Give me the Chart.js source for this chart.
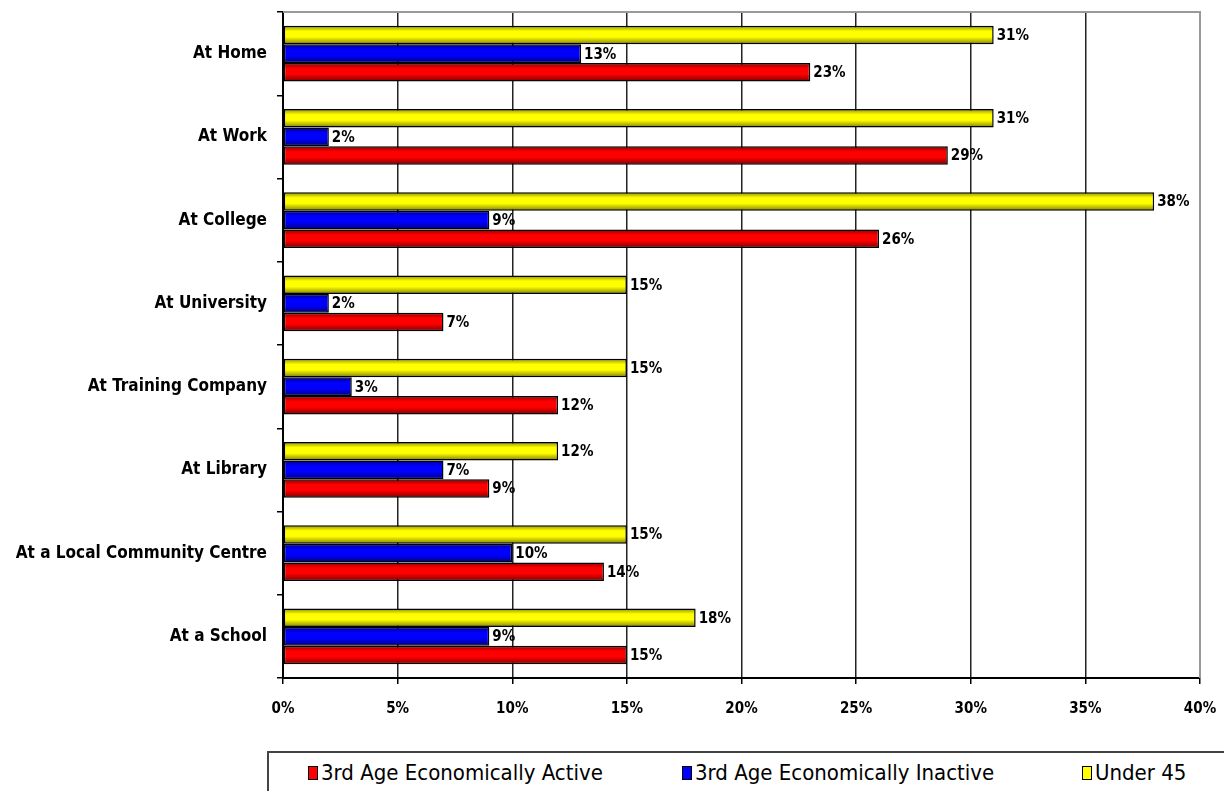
<!DOCTYPE html>
<html>
<head>
<meta charset="utf-8">
<script src="https://cdn.jsdelivr.net/npm/chart.js@4"></script>
<style>
  body { margin: 0; background: #fff; }
  #wrap { position: relative; width: 1224px; height: 791px; overflow: hidden; }
  #legend {
    position: absolute; left: 267px; top: 751px; width: 960px; height: 50px;
    border: 2px solid #444; box-sizing: border-box; background: #fff;
    font-family: "DejaVu Sans Condensed", sans-serif;
    font-size: 22px; color: #000;
  }
  .item { position: absolute; top: 7px; white-space: nowrap; }
  .box { display: inline-block; width: 8px; height: 12px; border: 1px solid #000; margin-right: 3px; vertical-align: 0px; }
</style>
</head>
<body>
<div id="wrap">
  <canvas id="chart" width="1224" height="791"></canvas>
  <div id="legend"></div>
</div>
<script>
// =====================
// Data
// =====================
const categories = ["At Home", "At Work", "At College", "At University", "At Training Company",
  "At Library", "At a Local Community Centre", "At a School"];
const under45 = [31, 31, 38, 15, 15, 12, 15, 18];
const inactive = [13, 2, 9, 2, 3, 7, 10, 9];
const active = [23, 29, 26, 7, 12, 9, 14, 15];
const xTicks = [0, 5, 10, 15, 20, 25, 30, 35, 40];

const FONT = "'DejaVu Sans Condensed', sans-serif";

// =====================
// Legend (HTML box under the chart)
// =====================
const legendItems = [
  { label: "3rd Age Economically Active", color: "#ff0000", left: 39 },
  { label: "3rd Age Economically Inactive", color: "#0000ff", left: 413 },
  { label: "Under 45", color: "#ffff00", left: 813 }
];
const legend = document.getElementById("legend");
legendItems.forEach(it => {
  const span = document.createElement("span");
  span.className = "item";
  span.style.left = it.left + "px";
  span.innerHTML = `<span class="box" style="background:${it.color}"></span>${it.label}`;
  legend.appendChild(span);
});

// =====================
// Plugins
// =====================
// darker edges on each bar, like the old 3D-ish office style
const shading = {
  id: "shading",
  afterDatasetsDraw(chart) {
    const ctx = chart.ctx;
    ctx.save();
    chart.data.datasets.forEach((ds, i) => {
      chart.getDatasetMeta(i).data.forEach(bar => {
        const h = bar.height;
        const top = bar.y - h / 2;
        const left = Math.min(bar.base, bar.x);
        const w = Math.abs(bar.x - bar.base);
        const g = ctx.createLinearGradient(0, top, 0, top + h);
        g.addColorStop(0, "rgba(0,0,0,0.45)");
        g.addColorStop(0.3, "rgba(0,0,0,0)");
        g.addColorStop(0.6, "rgba(0,0,0,0)");
        g.addColorStop(1, "rgba(0,0,0,0.5)");
        ctx.fillStyle = g;
        ctx.fillRect(left + 1, top + 1, w - 2, h - 2);
      });
    });
    ctx.restore();
  }
};

const valueLabels = {
  id: "valueLabels",
  afterDatasetsDraw(chart) {
    const ctx = chart.ctx;
    ctx.save();
    ctx.font = "bold 15px " + FONT;
    ctx.fillStyle = "#000";
    ctx.textBaseline = "middle";
    chart.data.datasets.forEach((ds, i) => {
      chart.getDatasetMeta(i).data.forEach((bar, j) => {
        ctx.fillText(ds.data[j] + "%", bar.x + 3, bar.y + 1);
      });
    });
    ctx.restore();
  }
};

const frame = {
  id: "frame",
  beforeDatasetsDraw(chart) {
    const a = chart.chartArea;
    const ctx = chart.ctx;
    ctx.save();
    ctx.strokeStyle = "#999";
    ctx.lineWidth = 2;
    ctx.beginPath();
    ctx.moveTo(a.left, a.top);
    ctx.lineTo(a.right, a.top);
    ctx.lineTo(a.right, a.bottom);
    ctx.stroke();
    ctx.restore();
  }
};

// keep the plot box where the padding puts it
function noAutoPadding(s) {
  s.paddingTop = 0;
  s.paddingBottom = 0;
  s.paddingLeft = 0;
  s.paddingRight = 0;
}

// =====================
// Chart
// =====================
new Chart(document.getElementById("chart"), {
  type: "bar",
  data: {
    labels: categories,
    datasets: [
      { label: "Under 45", data: under45, backgroundColor: "#ffff00" },
      { label: "3rd Age Economically Inactive", data: inactive, backgroundColor: "#0000ff" },
      { label: "3rd Age Economically Active", data: active, backgroundColor: "#ff0000" }
    ]
  },
  options: {
    indexAxis: "y",
    responsive: false,
    animation: false,
    layout: { padding: { top: 12, right: 24, bottom: 73, left: 0 } },
    datasets: {
      bar: {
        categoryPercentage: 0.67,
        barPercentage: 1,
        borderColor: "#000",
        borderWidth: 1.5,
        borderSkipped: false
      }
    },
    plugins: {
      legend: { display: false },
      tooltip: { enabled: false }
    },
    scales: {
      x: {
        min: 0,
        max: 40,
        afterBuildTicks: s => { s.ticks = xTicks.map(v => ({ value: v })); },
        afterFit: s => { s.height = 40; noAutoPadding(s); },
        border: { color: "#000", width: 2 },
        grid: {
          color: c => (c.tick && c.tick.value === 40 ? "#999" : "#222"),
          lineWidth: 1.5,
          tickLength: 6,
          tickColor: "#000"
        },
        ticks: {
          padding: 16,
          color: "#000",
          font: { family: FONT, size: 15, weight: "bold" },
          callback: v => v + "%"
        }
      },
      y: {
        afterFit: s => { s.width = 283; noAutoPadding(s); },
        border: { color: "#000", width: 2 },
        grid: {
          drawOnChartArea: false,
          tickLength: 6,
          tickColor: "#000",
          lineWidth: 1.5
        },
        ticks: {
          padding: 10,
          color: "#000",
          font: { family: FONT, size: 17, weight: "bold" }
        }
      }
    }
  },
  plugins: [frame, shading, valueLabels]
});
</script>
</body>
</html>
